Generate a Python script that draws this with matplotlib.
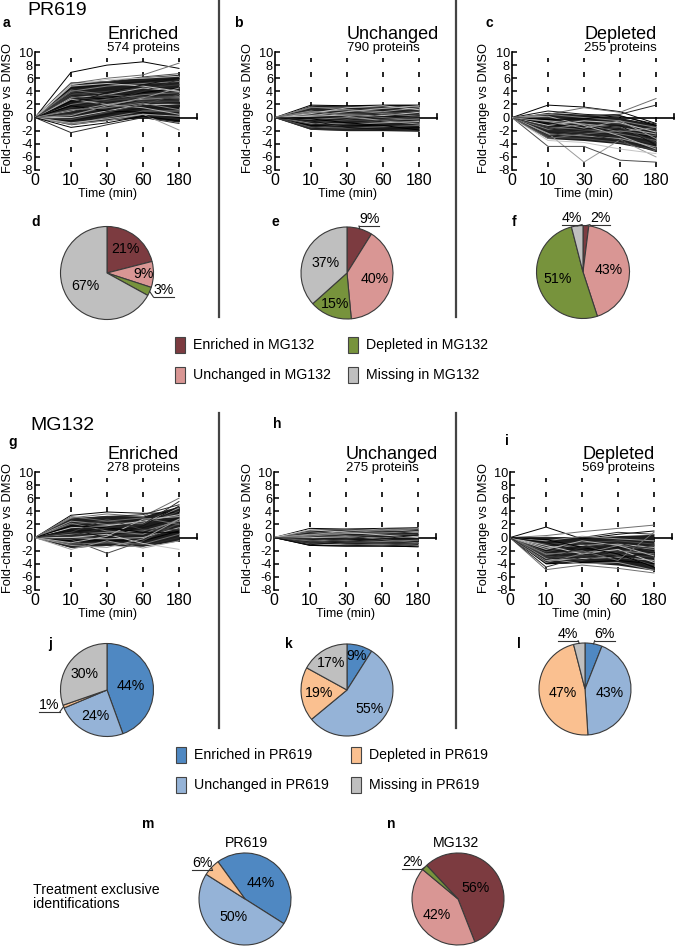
import numpy as np
import matplotlib
matplotlib.use('Agg')
import matplotlib.pyplot as plt
from matplotlib import font_manager as fm
from matplotlib.patches import Rectangle
from matplotlib.lines import Line2D

# ---- data ----
times = ['0', '10', '30', '60', '180']
yticks = [10, 8, 6, 4, 2, 0, -2, -4, -6, -8]

groups = ['Enriched', 'Unchanged', 'Depleted']
pr619_counts = [574, 790, 255]
mg132_counts = [278, 275, 569]

# fold-change at 10, 30, 60, 180 min (0 min is always 0)
pr619_enriched = [
    [6.9, 8.0, 8.5, 7.5], [5.2, 6.0, 6.5, 8.3], [-2.3, -1.1, 0.0, -0.9], [-1.0, -0.5, 0.5, -1.9],
    [5.3, 5.5, 6.2, 6.7], [5.0, 5.8, 6.0, 6.3], [4.5, 5.0, 5.5, 6.0], [4.0, 4.8, 5.2, 5.5],
    [3.5, 4.0, 4.5, 5.0], [3.0, 3.5, 4.5, 4.0], [2.5, 3.0, 3.8, 4.5], [2.0, 2.8, 3.5, 3.8],
    [1.5, 2.5, 3.0, 3.5], [1.0, 2.0, 2.8, 3.0], [0.5, 1.5, 2.5, 2.5], [0.0, 1.0, 2.0, 2.0],
    [-0.5, 0.5, 1.5, 1.5], [-1.0, 0.0, 1.0, 1.0], [3.8, 3.0, 2.5, 2.0], [2.8, 2.0, 1.5, 0.5],
    [1.8, 1.0, 0.8, 0.0], [4.2, 3.5, 3.0, 3.2], [0.8, 2.5, 4.0, 5.8], [0.3, 1.8, 3.0, 4.5],
    [-0.3, 0.8, 2.0, 3.5], [4.8, 5.2, 4.8, 4.0], [2.2, 3.8, 5.0, 6.0], [1.2, 1.5, 2.2, 1.2],
    [3.2, 2.5, 3.2, 2.8], [-0.8, -0.2, 0.5, 0.2], [-1.5, -0.8, 0.2, -0.5],
]
pr619_unchanged = [
    [1.9, 1.8, 1.9, 1.9], [1.5, 1.6, 1.4, 1.7], [1.2, 1.0, 1.3, 1.1], [0.8, 1.2, 0.9, 1.5],
    [0.5, 0.6, 0.8, 0.5], [0.2, 0.4, 0.3, 0.8], [0.0, -0.2, 0.1, 0.3], [-0.3, 0.0, -0.4, -0.2],
    [-0.6, -0.5, -0.3, -0.8], [-0.9, -1.0, -0.8, -0.6], [-1.2, -1.1, -1.3, -1.5], [-1.5, -1.6, -1.4, -1.2],
    [-1.8, -1.9, -1.8, -2.0], [1.0, 0.2, -0.5, -1.0], [-1.0, -0.3, 0.5, 1.0], [0.6, 1.5, 1.8, 1.2],
    [-0.5, -1.5, -1.8, -1.6], [1.6, 1.2, 0.6, 0.2], [-1.6, -1.0, -0.4, 0.2], [0.3, 0.9, 1.4, 1.8],
    [-0.2, -0.8, -1.2, -1.9], [0.9, 0.4, 0.0, -0.4],
]
pr619_depleted = [
    [1.9, 1.6, 0.9, -0.9], [0.5, 1.5, 0.8, 2.9], [0.0, 0.3, 0.5, 1.9], [-2.4, -6.8, -3.4, -6.0],
    [-4.4, -4.4, -6.5, -6.8], [-3.5, -3.8, -4.8, -5.5], [1.0, 0.5, 0.2, -1.0], [0.5, 0.0, -0.5, -1.5],
    [0.0, -0.5, -1.0, -2.0], [-0.5, -1.0, -1.5, -2.5], [-1.0, -1.5, -2.0, -3.0], [-1.5, -1.8, -2.5, -3.5],
    [-2.0, -2.2, -3.0, -4.0], [-2.5, -2.8, -3.2, -4.5], [-3.0, -3.2, -3.8, -5.0], [-1.2, -0.5, -0.8, -2.2],
    [-0.8, -1.8, -1.2, -4.2], [-1.8, -1.0, -2.2, -1.5], [-2.8, -2.0, -1.5, -3.8], [0.2, -1.2, -2.8, -4.8],
    [-0.3, -0.2, 0.3, -1.2], [-3.2, -2.5, -2.0, -2.8], [-1.5, -2.5, -3.5, -5.2], [-0.6, -1.6, -0.5, -3.2],
]
mg132_enriched = [
    [3.4, 3.9, 3.7, 3.8], [3.0, 3.6, 3.2, 6.0], [2.8, 3.2, 3.5, 5.0], [2.5, 2.0, 2.2, 4.5],
    [2.0, 2.5, 2.0, 4.0], [1.5, 1.8, 2.5, 3.5], [1.0, 1.2, 1.5, 3.0], [0.5, 0.8, 1.0, 2.5],
    [0.2, 0.3, 0.5, 2.0], [0.0, -0.2, 0.0, 1.5], [-0.5, -0.5, -0.5, 1.0], [-1.0, -0.8, -1.0, 0.5],
    [-1.5, -1.2, -1.3, 0.0], [-1.8, -0.5, -1.6, -0.5], [-0.3, -2.4, -0.5, 2.2], [0.0, 0.5, -0.9, -1.8],
    [1.2, 0.0, 1.8, 4.8], [2.2, 1.0, 0.5, 2.8], [0.8, 2.8, 1.2, 1.2], [-0.8, 0.2, 2.8, 3.2],
    [1.8, 1.5, 0.8, 0.8], [3.2, 2.5, 3.0, 2.0], [0.3, 1.5, 2.0, 5.5], [-1.2, -1.5, -0.2, 2.8],
]
mg132_unchanged = [
    [1.4, 1.3, 1.4, 1.5], [1.1, 1.2, 1.0, 1.3], [0.8, 0.9, 0.8, 1.1], [0.5, 0.6, 0.7, 0.8],
    [0.3, 0.2, 0.4, 0.5], [0.0, 0.1, -0.1, 0.2], [-0.2, -0.3, -0.2, -0.1], [-0.5, -0.4, -0.6, -0.4],
    [-0.8, -0.7, -0.8, -0.9], [-1.0, -1.1, -1.0, -1.2], [-1.2, -1.3, -1.3, -1.4], [0.9, 0.3, -0.3, -0.8],
    [-0.9, -0.2, 0.4, 1.0], [0.4, 1.0, 1.3, 0.9], [-0.4, -1.0, -1.2, -0.9], [1.2, 0.8, 0.4, 0.0],
    [-1.1, -0.6, -0.2, 0.4], [0.2, 0.7, 1.1, 1.4], [-0.1, -0.6, -0.9, -1.3],
]
mg132_depleted = [
    [1.6, -0.2, 0.5, 1.0], [0.3, 0.9, 1.4, 1.9], [0.0, 0.0, 0.8, 0.5], [-0.5, 0.2, -0.2, -0.5],
    [-1.0, -0.8, -0.5, -1.0], [-1.5, -1.2, -1.0, -1.5], [-2.0, -1.8, -1.5, -2.0], [-2.5, -2.2, -2.0, -2.5],
    [-3.0, -2.8, -2.5, -3.0], [-3.5, -3.2, -3.0, -3.5], [-4.0, -3.8, -3.5, -4.0], [-4.9, -4.2, -4.7, -5.4],
    [-4.5, -3.0, -2.0, -4.8], [-3.2, -4.0, -3.8, -5.0], [-2.2, -1.0, -2.8, -4.2], [-1.2, -2.5, -1.8, -3.8],
    [-0.8, -2.0, -3.2, -2.2], [-3.8, -2.5, -1.2, -1.8], [-2.8, -3.5, -2.2, -1.2], [-1.8, -0.5, -1.2, -2.8],
    [-0.3, -1.5, -2.5, -4.5], [-2.6, -2.0, -3.5, 0.8], [-3.4, -1.5, -0.8, -2.2],
]

# dense core of the trajectories (low, high) at 0, 10, 30, 60, 180 min
pr619_enriched_core = ([0, -1.1, -0.4, 0.0, -0.7], [0, 5.2, 5.6, 6.2, 6.6])
pr619_unchanged_core = ([0, -1.8, -2.0, -2.0, -2.1], [0, 1.9, 1.9, 2.0, 2.0])
pr619_depleted_core = ([0, -3.2, -3.5, -4.0, -5.0], [0, 0.8, 0.5, 0.0, -1.0])
mg132_enriched_core = ([0, -1.5, -1.2, -1.3, -0.5], [0, 3.0, 3.4, 3.3, 4.8])
mg132_unchanged_core = ([0, -1.2, -1.3, -1.3, -1.4], [0, 1.3, 1.4, 1.4, 1.5])
mg132_depleted_core = ([0, -4.0, -3.8, -4.2, -5.0], [0, 0.2, 0.0, 0.3, 0.5])

mg132_cats = ['Enriched in MG132', 'Unchanged in MG132', 'Depleted in MG132', 'Missing in MG132']
mg132_colors = ['#7c3b40', '#d99694', '#77933c', '#bfbfbf']
pr619_cats = ['Enriched in PR619', 'Unchanged in PR619', 'Depleted in PR619', 'Missing in PR619']
pr619_colors = ['#4f88c2', '#95b3d7', '#fac090', '#bfbfbf']

pie_d = [21, 9, 3, 67]
pie_e = [9, 40, 15, 37]
pie_f = [2, 43, 51, 4]
pie_j = [44, 24, 1, 30]
pie_k = [9, 55, 19, 17]
pie_l = [6, 43, 47, 4]
pie_m = [44, 50, 6]   # PR619 exclusive
pie_n = [56, 42, 2]   # MG132 exclusive

# ---- fonts ----
names = {f.name for f in fm.fontManager.ttflist}
if 'Liberation Sans Narrow' in names:
    NARROW, NS = 'Liberation Sans Narrow', 1.0
else:
    NARROW, NS = 'Liberation Sans', 0.85
REG = 'Liberation Sans'

W, H = 675, 946
fig = plt.figure(figsize=(W / 100, H / 100), dpi=100)


def fx(x):
    return x / W


def fy(y):
    return 1 - y / H


def box(x0, y0, x1, y1):
    return fig.add_axes([fx(x0), fy(y1), (x1 - x0) / W, (y1 - y0) / H])


def T(x, y, s, size, family=REG, **kw):
    fig.text(fx(x), fy(y), s, fontsize=size, family=family, **kw)


shades = ['#000000', '#6e6e6e', '#2b2b2b', '#9a9a9a', '#4a4a4a', '#c4c4c4',
          '#111111', '#808080', '#3d3d3d', '#b0b0b0']
STEP = 36  # px between time points


def traj_panel(x_axis, y_top, rows, core, title, count, letter, letter_xy, ylab_x):
    ax = box(x_axis, y_top, x_axis + 4.6 * STEP, y_top + 118)
    ax.set_xlim(0, 4.6)
    ax.set_ylim(-8, 10)
    xs = np.arange(len(times))
    for xv in xs[1:]:
        ax.plot([xv, xv], [-7.6, 9.1], color='black', lw=1.2, ls=(0, (3, 6)), zorder=1)
    ax.plot([0, 4.5], [0, 0], color='black', lw=1.2, zorder=1)
    ax.plot([4.5, 4.5], [-0.2, 0.6], color='black', lw=1.2, zorder=1)
    ax.fill_between(xs, core[0], core[1], color='#1e1e1e', lw=0, zorder=2)
    for i, row in enumerate(rows):
        ax.plot(xs, np.r_[0, row], color=shades[i % len(shades)], lw=0.7, zorder=3)
    for s in ['top', 'right', 'bottom']:
        ax.spines[s].set_visible(False)
    ax.spines['left'].set_linewidth(1.2)
    ax.set_yticks(yticks)
    ax.set_yticklabels([str(v) for v in yticks], family=NARROW, fontsize=10.8 * NS)
    ax.tick_params(axis='y', direction='in', length=3.5, width=1.1, pad=1.5)
    ax.set_xticks(xs)
    ax.set_xticklabels(times, family=NARROW, fontsize=13.5 * NS)
    ax.tick_params(axis='x', length=0, pad=2)
    T(x_axis + 2 * STEP, y_top + 136, 'Time (min)', 9, ha='center', va='top')
    T(ylab_x, y_top + 56, 'Fold-change vs DMSO', 9.3, rotation=90, ha='center', va='center')
    T(x_axis + 2 * STEP, y_top - 13, title, 13, va='baseline')
    T(x_axis + 2 * STEP, y_top - 1, f'{count} proteins', 9.5, va='baseline')
    T(letter_xy[0], letter_xy[1], letter, 10, weight='bold', va='baseline')


def pie_panel(cx, cy, r, vals, colors, lab_r, outside, start=90):
    ax = box(cx - r, cy - r, cx + r, cy + r)
    wedges, _ = ax.pie(vals, colors=colors, startangle=start, counterclock=False,
                       wedgeprops=dict(edgecolor='#3a3a3a', linewidth=0.8))
    ax.set_xlim(-1, 1)
    ax.set_ylim(-1, 1)
    for i, (w, v) in enumerate(zip(wedges, vals)):
        mid = np.deg2rad((w.theta1 + w.theta2) / 2)
        ux, uy = np.cos(mid), np.sin(mid)
        if i in outside:
            lx, ly = outside[i]
            ax.text(lx, ly, f'{v}%', ha='center', va='center', family=NARROW,
                    fontsize=12 * NS)
            ul = ly - 0.15
            x0, x1 = lx - 0.22, lx + 0.22
            ax.plot([x0, x1], [ul, ul], color='#333333', lw=0.8, clip_on=False)
            end = x0 if abs(x0 - ux) < abs(x1 - ux) else x1
            ax.plot([ux, end], [uy, ul], color='#333333', lw=0.8, clip_on=False)
        else:
            ax.text(ux * lab_r[i], uy * lab_r[i], f'{v}%', ha='center', va='center',
                    family=NARROW, fontsize=12 * NS)


def legend(cats, colors, col_x, row_y):
    for i, (c, col) in enumerate(zip(cats, colors)):
        x, y = col_x[i // 2], row_y[i % 2]
        fig.add_artist(Rectangle((fx(x), fy(y + 8)), 10 / W, 16 / H, transform=fig.transFigure,
                                 facecolor=col, edgecolor='#444444', lw=0.8))
        T(x + 18, y, c, 12 * NS, family=NARROW, va='center')


def vsep(x, y0, y1):
    fig.add_artist(Line2D([fx(x), fx(x)], [fy(y0), fy(y1)], transform=fig.transFigure,
                          color='#444444', lw=1.6))


# ---- PR619 section ----
T(27, 15, 'PR619', 14, va='baseline')
traj_panel(35, 52, pr619_enriched, pr619_enriched_core, groups[0], pr619_counts[0], 'a', (3, 27), 8)
traj_panel(275, 52, pr619_unchanged, pr619_unchanged_core, groups[1], pr619_counts[1], 'b', (234, 27), 248)
traj_panel(512, 52, pr619_depleted, pr619_depleted_core, groups[2], pr619_counts[2], 'c', (486, 27), 484)

pie_panel(107, 273, 46.5, pie_d, mg132_colors, [0.66, 0.78, None, 0.53], {2: (1.22, -0.37)})
pie_panel(347, 273, 46, pie_e, mg132_colors, [None, 0.61, 0.72, 0.52], {0: (0.48, 1.17)})
pie_panel(583, 272, 46.5, pie_f, mg132_colors, [None, 0.56, 0.57, None],
          {0: (0.37, 1.17), 3: (-0.24, 1.17)})
for s, x in zip('def', [31, 272, 512]):
    T(x, 226, s, 10, weight='bold', va='baseline')
legend(mg132_cats, mg132_colors, [175, 348], [345, 375])
vsep(219, 0, 317)
vsep(456, 0, 317)

# ---- MG132 section ----
T(30, 430, 'MG132', 14, va='baseline')
traj_panel(35, 472, mg132_enriched, mg132_enriched_core, groups[0], mg132_counts[0], 'g', (8, 446), 8)
traj_panel(274, 472, mg132_unchanged, mg132_unchanged_core, groups[1], mg132_counts[1], 'h', (273, 428), 248)
traj_panel(510, 472, mg132_depleted, mg132_depleted_core, groups[2], mg132_counts[2], 'i', (505, 445), 484)

pie_panel(107, 690, 46.5, pie_j, pr619_colors, [0.51, 0.6, None, 0.6], {2: (-1.24, -0.33)})
pie_panel(347, 690, 46, pie_k, pr619_colors, [0.76, 0.64, 0.6, 0.69], {})
pie_panel(585, 689, 46, pie_l, pr619_colors, [None, 0.55, 0.5, None],
          {0: (0.43, 1.2), 3: (-0.37, 1.2)})
for s, x in zip('jkl', [48, 285, 517]):
    T(x, 648, s, 10, weight='bold', va='baseline')
legend(pr619_cats, pr619_colors, [176, 351], [755, 785])
vsep(219, 413, 728)
vsep(456, 413, 728)

# ---- treatment exclusive ----
T(33, 897, 'Treatment exclusive\nidentifications', 12 * NS, family=NARROW, va='center',
  linespacing=1.0)
T(142, 828, 'm', 10, weight='bold', va='baseline')
T(387, 828, 'n', 10, weight='bold', va='baseline')
T(247, 847, 'PR619', 12 * NS, family=NARROW, ha='center', va='baseline')
T(456, 847, 'MG132', 12 * NS, family=NARROW, ha='center', va='baseline')
pie_panel(245, 899, 46, pie_m, pr619_colors[:3], [0.49, 0.47, None], {2: (-0.93, 0.78)}, start=126)
pie_panel(458, 899, 46, pie_n, mg132_colors[:3], [0.45, 0.58, None], {2: (-1.0, 0.80)}, start=133)

fig.savefig('out.png', dpi=100)
